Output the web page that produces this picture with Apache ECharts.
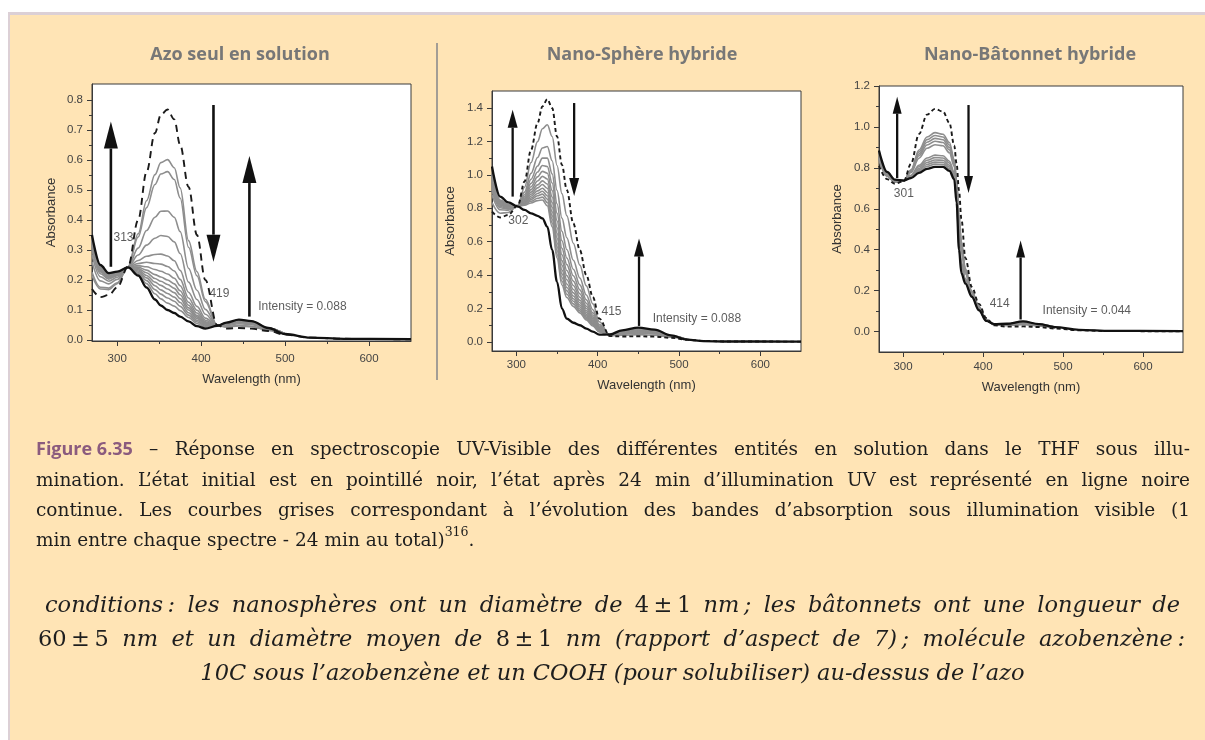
<!DOCTYPE html>
<html>
<head>
<meta charset="utf-8">
<script src="https://cdn.jsdelivr.net/npm/echarts@6/dist/echarts.min.js"></script>
<style>
  html, body { margin: 0; padding: 0; background: #fff; }
  #chart { width: 1205px; height: 740px; }
</style>
</head>
<body>
<div id="chart"></div>
<script>
// ---------- Azo alone in solution ----------
const wlAzo = [270,280,290,300,313,325,335,345,352,360,368,375,385,395,405,419,430,445,460,480,500,530,570,650];
const azoInitial = [0.17,0.143,0.15,0.175,0.245,0.40,0.56,0.69,0.75,0.768,0.735,0.65,0.51,0.35,0.20,0.05,0.038,0.04,0.038,0.03,0.018,0.008,0.004,0.002];
const azoFinal = [0.35,0.25,0.223,0.228,0.242,0.215,0.175,0.135,0.115,0.10,0.09,0.078,0.062,0.046,0.038,0.047,0.058,0.068,0.063,0.04,0.02,0.008,0.004,0.003];
// visible-light recovery spectra, sampled on wlAzo from 270 to 500 nm
const azoGray = [
  [0.215,0.170,0.168,0.188,0.244,0.354,0.464,0.551,0.591,0.601,0.574,0.507,0.331,0.228,0.136,0.049,0.043,0.047,0.044,0.032,0.018],
  [0.226,0.176,0.173,0.191,0.244,0.343,0.441,0.518,0.553,0.561,0.535,0.473,0.309,0.214,0.128,0.049,0.044,0.049,0.046,0.033,0.019],
  [0.261,0.197,0.187,0.202,0.243,0.306,0.365,0.409,0.429,0.430,0.409,0.361,0.239,0.166,0.102,0.048,0.048,0.054,0.051,0.035,0.019],
  [0.284,0.211,0.196,0.209,0.243,0.283,0.316,0.339,0.348,0.345,0.327,0.288,0.193,0.135,0.086,0.048,0.051,0.058,0.054,0.036,0.019],
  [0.301,0.221,0.203,0.214,0.243,0.265,0.279,0.285,0.286,0.280,0.264,0.232,0.159,0.112,0.073,0.048,0.053,0.060,0.056,0.037,0.019],
  [0.311,0.227,0.207,0.216,0.243,0.255,0.259,0.255,0.253,0.245,0.230,0.202,0.140,0.099,0.066,0.048,0.054,0.062,0.058,0.038,0.020],
  [0.318,0.231,0.210,0.218,0.243,0.248,0.244,0.235,0.229,0.220,0.206,0.181,0.126,0.090,0.061,0.048,0.054,0.063,0.058,0.038,0.020],
  [0.323,0.234,0.212,0.220,0.243,0.243,0.233,0.218,0.210,0.200,0.187,0.164,0.116,0.082,0.058,0.047,0.055,0.064,0.059,0.039,0.020],
  [0.327,0.236,0.214,0.221,0.243,0.238,0.224,0.205,0.196,0.185,0.172,0.151,0.107,0.077,0.055,0.047,0.055,0.064,0.060,0.039,0.020],
  [0.331,0.239,0.215,0.222,0.242,0.234,0.215,0.193,0.182,0.170,0.158,0.138,0.100,0.072,0.052,0.047,0.056,0.065,0.060,0.039,0.020],
  [0.335,0.241,0.217,0.224,0.242,0.230,0.207,0.181,0.167,0.155,0.143,0.125,0.091,0.066,0.049,0.047,0.056,0.066,0.061,0.039,0.020],
  [0.339,0.244,0.219,0.225,0.242,0.226,0.198,0.168,0.153,0.140,0.129,0.112,0.083,0.061,0.046,0.047,0.057,0.066,0.061,0.040,0.020],
  [0.344,0.246,0.220,0.226,0.242,0.221,0.188,0.154,0.137,0.123,0.113,0.098,0.075,0.055,0.043,0.047,0.057,0.067,0.062,0.040,0.020]
];
const azoArrows = [[292.5,0.244,0.728],[414.7,0.783,0.261],[457.5,0.078,0.613]];
const azoNotes = [['313',307.5,0.34,'center'],['419',421.8,0.155,'center'],['Intensity = 0.088',468,0.111,'left']];

// ---------- Hybrid nanospheres ----------
const wlSphere = [270,280,290,302,310,318,326,332,338,344,350,356,362,370,378,386,394,402,415,430,450,470,490,510,530,560,650];
const sphereInitial = [0.78,0.745,0.76,0.82,0.96,1.15,1.31,1.41,1.453,1.40,1.23,1.06,0.91,0.71,0.55,0.40,0.27,0.14,0.035,0.033,0.034,0.032,0.025,0.014,0.006,0.003,0.002];
const sphereFinal = [1.05,0.87,0.835,0.81,0.79,0.77,0.755,0.74,0.69,0.55,0.36,0.20,0.14,0.115,0.10,0.08,0.062,0.044,0.045,0.07,0.086,0.074,0.04,0.014,0.005,0.003,0.002];
// sampled on wlSphere from 270 to 510 nm
const sphereGray = [
  [0.834,0.770,0.775,0.818,0.926,1.074,1.199,1.276,1.300,1.230,1.056,0.888,0.756,0.591,0.460,0.336,0.228,0.121,0.037,0.040,0.044,0.040,0.028,0.014],
  [0.880,0.791,0.788,0.816,0.897,1.009,1.104,1.161,1.170,1.085,0.907,0.741,0.624,0.489,0.383,0.281,0.193,0.104,0.039,0.047,0.053,0.048,0.031,0.014],
  [0.905,0.803,0.795,0.815,0.881,0.974,1.053,1.100,1.100,1.006,0.827,0.662,0.553,0.435,0.342,0.252,0.174,0.096,0.040,0.050,0.058,0.051,0.032,0.014],
  [0.923,0.811,0.800,0.815,0.870,0.949,1.017,1.056,1.050,0.951,0.771,0.606,0.503,0.396,0.312,0.231,0.160,0.089,0.040,0.053,0.061,0.054,0.033,0.014],
  [0.937,0.818,0.804,0.814,0.861,0.929,0.988,1.021,1.010,0.906,0.725,0.560,0.463,0.364,0.289,0.214,0.149,0.084,0.041,0.054,0.064,0.056,0.034,0.014],
  [0.949,0.823,0.807,0.814,0.854,0.912,0.963,0.991,0.975,0.868,0.685,0.522,0.428,0.338,0.268,0.200,0.140,0.080,0.041,0.056,0.067,0.058,0.034,0.014],
  [0.960,0.828,0.810,0.813,0.847,0.897,0.940,0.964,0.945,0.834,0.651,0.487,0.397,0.314,0.250,0.187,0.131,0.076,0.042,0.058,0.069,0.060,0.035,0.014],
  [0.969,0.832,0.812,0.813,0.841,0.884,0.922,0.942,0.920,0.806,0.622,0.459,0.372,0.294,0.235,0.176,0.125,0.073,0.042,0.059,0.070,0.061,0.035,0.014],
  [0.977,0.836,0.815,0.813,0.836,0.872,0.904,0.920,0.895,0.779,0.594,0.431,0.347,0.275,0.221,0.166,0.118,0.070,0.042,0.060,0.072,0.063,0.036,0.014],
  [0.985,0.840,0.817,0.812,0.831,0.862,0.889,0.902,0.875,0.756,0.571,0.408,0.326,0.259,0.209,0.157,0.112,0.067,0.043,0.061,0.073,0.064,0.036,0.014],
  [0.992,0.843,0.819,0.812,0.827,0.852,0.875,0.885,0.855,0.734,0.548,0.386,0.306,0.244,0.197,0.149,0.107,0.065,0.043,0.062,0.075,0.065,0.037,0.014],
  [0.999,0.846,0.821,0.812,0.822,0.842,0.860,0.867,0.835,0.712,0.525,0.363,0.286,0.228,0.186,0.141,0.102,0.062,0.043,0.063,0.076,0.066,0.037,0.014],
  [1.006,0.849,0.823,0.812,0.818,0.832,0.846,0.850,0.815,0.689,0.503,0.341,0.266,0.213,0.174,0.132,0.096,0.060,0.043,0.064,0.077,0.067,0.038,0.014]
];
const sphereArrows = [[295.4,0.87,1.39],[371,1.43,0.874],[450.8,0.096,0.62]];
const sphereNotes = [['302',302.4,0.726,'center'],['415',417,0.18,'center'],['Intensity = 0.088',467.6,0.14,'left']];

// ---------- Hybrid nanorods ----------
const wlRod = [270,280,290,301,310,320,330,340,350,358,364,367,370,373,378,386,395,404,414,430,450,470,490,520,560,650];
const rodInitial = [0.81,0.745,0.722,0.735,0.82,0.965,1.06,1.088,1.075,1.02,0.91,0.82,0.69,0.55,0.36,0.218,0.135,0.066,0.03,0.024,0.025,0.022,0.015,0.006,0.002,0.001];
const rodFinal = [0.885,0.78,0.742,0.738,0.75,0.775,0.795,0.805,0.805,0.785,0.745,0.63,0.40,0.285,0.234,0.17,0.104,0.052,0.036,0.038,0.05,0.036,0.022,0.008,0.003,0.002];
// sampled on wlRod from 270 to 490 nm
const rodGray = [
  [0.841,0.759,0.730,0.736,0.791,0.887,0.951,0.972,0.964,0.924,0.842,0.742,0.571,0.441,0.308,0.198,0.122,0.060,0.032,0.030,0.035,0.028,0.018],
  [0.844,0.761,0.731,0.736,0.788,0.878,0.938,0.958,0.951,0.912,0.834,0.733,0.557,0.428,0.302,0.196,0.121,0.060,0.033,0.030,0.036,0.028,0.018],
  [0.848,0.763,0.732,0.737,0.784,0.868,0.925,0.944,0.937,0.900,0.826,0.723,0.542,0.415,0.296,0.194,0.119,0.059,0.033,0.031,0.038,0.029,0.019],
  [0.852,0.765,0.733,0.737,0.781,0.859,0.912,0.930,0.924,0.888,0.818,0.714,0.528,0.402,0.289,0.191,0.118,0.058,0.033,0.032,0.039,0.030,0.019],
  [0.856,0.767,0.734,0.737,0.777,0.847,0.896,0.913,0.908,0.874,0.808,0.702,0.510,0.386,0.282,0.188,0.116,0.057,0.034,0.033,0.041,0.031,0.019],
  [0.870,0.773,0.738,0.737,0.764,0.813,0.848,0.862,0.859,0.832,0.778,0.668,0.458,0.338,0.259,0.180,0.110,0.055,0.035,0.035,0.045,0.033,0.021],
  [0.873,0.774,0.739,0.738,0.761,0.805,0.837,0.850,0.848,0.823,0.771,0.660,0.446,0.327,0.254,0.178,0.109,0.054,0.035,0.036,0.046,0.034,0.021],
  [0.876,0.776,0.740,0.738,0.758,0.797,0.826,0.838,0.837,0.812,0.764,0.652,0.434,0.316,0.249,0.176,0.108,0.054,0.035,0.036,0.047,0.034,0.021],
  [0.879,0.777,0.740,0.738,0.756,0.790,0.816,0.828,0.827,0.804,0.758,0.645,0.423,0.306,0.244,0.174,0.107,0.053,0.036,0.037,0.048,0.035,0.021],
  [0.882,0.778,0.741,0.738,0.753,0.784,0.807,0.818,0.817,0.796,0.753,0.639,0.413,0.297,0.240,0.172,0.105,0.053,0.036,0.037,0.049,0.035,0.022]
];
const rodArrows = [[292.7,0.75,1.148],[381.9,1.107,0.677],[447,0.059,0.445]];
const rodNotes = [['301',301,0.673,'center'],['414',420.8,0.137,'center'],['Intensity = 0.044',474.5,0.102,'left']];

// ---------- tick values ----------
const xMajorTicks = [300,400,500,600];
const xMinorTicks = [350,450,550];
const azoYMajor = [0,0.1,0.2,0.3,0.4,0.5,0.6,0.7,0.8];
const azoYMinor = [0.05,0.15,0.25,0.35,0.45,0.55,0.65,0.75];
const sphereYMajor = [0,0.2,0.4,0.6,0.8,1.0,1.2,1.4];
const sphereYMinor = [0.1,0.3,0.5,0.7,0.9,1.1,1.3];
const rodYMajor = [0,0.2,0.4,0.6,0.8,1.0,1.2];
const rodYMinor = [0.1,0.3,0.5,0.7,0.9,1.1];

// ---------- texts ----------
const panelTitles = ['Azo seul en solution','Nano-Sphère hybride','Nano-Bâtonnet hybride'];
const captionLines = [
  '{fig|Figure\u00a06.35} – Réponse en spectroscopie UV-Visible des différentes entités en solution dans le THF sous illu-',
  'mination. L’état initial est en pointillé noir, l’état après 24 min d’illumination UV est représenté en ligne noire',
  'continue. Les courbes grises correspondant à l’évolution des bandes d’absorption sous illumination visible (1',
  'min entre chaque spectre - 24 min au total){sup|316}.'
];
const noteLines = [
  'conditions\u2009: les nanosphères ont un diamètre de {m|4\u2009±\u20091} nm\u2009; les bâtonnets ont une longueur de',
  '{m|60\u2009±\u20095} nm et un diamètre moyen de {m|8\u2009±\u20091} nm (rapport d’aspect de 7)\u2009; molécule azobenzène\u2009:',
  '10C sous l’azobenzène et un COOH (pour solubiliser) au-dessus de l’azo'
];

// ---------- layout of the three panels ----------
const panels = [
  { wl: wlAzo, initial: azoInitial, final: azoFinal, gray: azoGray, arrows: azoArrows, notes: azoNotes,
    yMajor: azoYMajor, yMinor: azoYMinor, yMin: -0.0033, yMax: 0.853,
    grid: { left: 92, top: 84, width: 319, height: 257 }, titleX: 240,
    head: [14, 27], arrowWidth: 2.6, dash: [7, 5], xMargin: 12, xGap: 32, yGap: 34 },
  { wl: wlSphere, initial: sphereInitial, final: sphereFinal, gray: sphereGray, arrows: sphereArrows, notes: sphereNotes,
    yMajor: sphereYMajor, yMinor: sphereYMinor, yMin: -0.054, yMax: 1.502,
    grid: { left: 492, top: 91, width: 309, height: 260 }, titleX: 642,
    head: [10, 18], arrowWidth: 2.3, dash: [4, 3], xMargin: 8, xGap: 28, yGap: 35 },
  { wl: wlRod, initial: rodInitial, final: rodFinal, gray: rodGray, arrows: rodArrows, notes: rodNotes,
    yMajor: rodYMajor, yMinor: rodYMinor, yMin: -0.1, yMax: 1.2,
    grid: { left: 879, top: 86, width: 304, height: 266 }, titleX: 1030,
    head: [9, 17], arrowWidth: 2.3, dash: [4, 3], xMargin: 9, xGap: 29, yGap: 35 }
];

const axisFont = 'Liberation Sans';
const grids = [], xAxes = [], yAxes = [], series = [];

panels.forEach((p, i) => {
  grids.push(Object.assign({ show: true, backgroundColor: '#ffffff', borderColor: '#3a3a3a', borderWidth: 1 }, p.grid));
  const pair = (vals) => vals.map((v, k) => [p.wl[k], v]);
  // major axis (labels + long ticks) and minor axis (short ticks)
  xAxes.push({
    type: 'value', gridIndex: i, min: 270, max: 650, position: 'bottom',
    axisLine: { show: true, onZero: false, lineStyle: { color: '#3a3a3a', width: 1 } },
    axisTick: { show: true, inside: false, length: 5, customValues: xMajorTicks, lineStyle: { color: '#3a3a3a' } },
    axisLabel: { customValues: xMajorTicks, fontSize: 11.5, color: '#444', margin: p.xMargin, fontFamily: axisFont },
    splitLine: { show: false },
    name: 'Wavelength (nm)', nameLocation: 'middle', nameGap: p.xGap,
    nameTextStyle: { fontSize: 13, color: '#333', fontFamily: axisFont }
  });
  xAxes.push({
    type: 'value', gridIndex: i, min: 270, max: 650, position: 'bottom',
    axisLine: { show: false, onZero: false },
    axisTick: { show: true, inside: false, length: 3, customValues: xMinorTicks, lineStyle: { color: '#3a3a3a' } },
    axisLabel: { show: false }, splitLine: { show: false }
  });
  yAxes.push({
    type: 'value', gridIndex: i, min: p.yMin, max: p.yMax, position: 'left',
    axisLine: { show: true, onZero: false, lineStyle: { color: '#3a3a3a', width: 1 } },
    axisTick: { show: true, inside: false, length: 5, customValues: p.yMajor, lineStyle: { color: '#3a3a3a' } },
    axisLabel: { customValues: p.yMajor, fontSize: 11.5, color: '#444', margin: 9, fontFamily: axisFont,
                 formatter: (v) => Number(v).toFixed(1) },
    splitLine: { show: false },
    name: 'Absorbance', nameLocation: 'middle', nameGap: p.yGap,
    nameTextStyle: { fontSize: 13, color: '#333', fontFamily: axisFont }
  });
  yAxes.push({
    type: 'value', gridIndex: i, min: p.yMin, max: p.yMax, position: 'left',
    axisLine: { show: false, onZero: false },
    axisTick: { show: true, inside: false, length: 3, customValues: p.yMinor, lineStyle: { color: '#3a3a3a' } },
    axisLabel: { show: false }, splitLine: { show: false }
  });

  const ax = { xAxisIndex: 2 * i, yAxisIndex: 2 * i };
  const lineBase = Object.assign({ type: 'line', symbol: 'none', smooth: 0.35, smoothMonotone: 'x', silent: true }, ax);

  p.gray.forEach((g) => {
    series.push(Object.assign({}, lineBase, { data: pair(g), lineStyle: { color: '#8e8e8e', width: 1.6 } }));
  });
  series.push(Object.assign({}, lineBase, { data: pair(p.initial), lineStyle: { color: '#1a1a1a', width: 1.9, type: p.dash } }));
  series.push(Object.assign({}, lineBase, { data: pair(p.final), lineStyle: { color: '#111', width: 2.3 } }));

  // vertical arrows: [wavelength, tail absorbance, tip absorbance]
  series.push(Object.assign({
    type: 'custom', silent: true, data: p.arrows, encode: { x: 0, y: [1, 2] },
    renderItem: (params, api) => {
      const a = api.coord([api.value(0), api.value(1)]);
      const b = api.coord([api.value(0), api.value(2)]);
      const dir = b[1] < a[1] ? -1 : 1;
      const base = b[1] - dir * p.head[1];
      return { type: 'group', children: [
        { type: 'line', shape: { x1: a[0], y1: a[1], x2: b[0], y2: base }, style: { stroke: '#111', lineWidth: p.arrowWidth } },
        { type: 'polygon', shape: { points: [[b[0], b[1]], [b[0] - p.head[0] / 2, base], [b[0] + p.head[0] / 2, base]] }, style: { fill: '#111' } }
      ] };
    }
  }, ax));

  // annotations (isosbestic points, intensity)
  series.push(Object.assign({
    type: 'scatter', silent: true, symbolSize: 0,
    data: p.notes.map((n) => ({ name: n[0], value: [n[1], n[2]],
      label: { show: true, formatter: '{b}', position: [0, 0], align: n[3], verticalAlign: 'middle',
               fontSize: 12, color: '#333', fontFamily: axisFont } }))
  }, ax));
});

// ---------- justified caption text ----------
const mctx = document.createElement('canvas').getContext('2d');
const fontOf = (s) => `${s.fontStyle || 'normal'} ${s.fontWeight || 'normal'} ${s.fontSize}px ${s.fontFamily}`;
const widthOf = (t, s) => { mctx.font = fontOf(s); return mctx.measureText(t).width; };

function parseWord(w, base, styles) {
  const out = [];
  const re = /\{(\w+)\|([^}]*)\}|([^{]+)/g;
  let m;
  while ((m = re.exec(w))) {
    if (m[1]) out.push({ text: m[2], style: Object.assign({}, base, styles[m[1]]) });
    else out.push({ text: m[3], style: base });
  }
  return out;
}

function setLine(line, base, styles, x0, x1, y, mode, out) {
  const words = line.split(' ').map((w) => parseWord(w, base, styles));
  const widths = words.map((ps) => ps.reduce((acc, q) => acc + widthOf(q.text, q.style), 0));
  const total = widths.reduce((a, b) => a + b, 0);
  const space = widthOf(' ', base);
  let gap = space, x = x0;
  if (mode === 'justify' && words.length > 1) gap = (x1 - x0 - total) / (words.length - 1);
  if (mode === 'center') x = (x0 + x1) / 2 - (total + space * (words.length - 1)) / 2;
  words.forEach((ps) => {
    ps.forEach((q) => {
      const s = q.style;
      out.push({ type: 'text', x: x, y: y + (s.dy || 0), silent: true,
        style: { text: q.text, fontFamily: s.fontFamily, fontSize: s.fontSize, fontStyle: s.fontStyle || 'normal',
                 fontWeight: s.fontWeight || 'normal', fill: s.fill,
                 align: 'left', verticalAlign: 'middle', textAlign: 'left', textVerticalAlign: 'middle' } });
      x += widthOf(q.text, s);
    });
    x += gap;
  });
}

const graphics = [
  { type: 'rect', shape: { x: 0, y: 0, width: 1205, height: 12 }, style: { fill: '#ffffff' }, silent: true },
  { type: 'rect', shape: { x: 0, y: 0, width: 8, height: 740 }, style: { fill: '#ffffff' }, silent: true },
  { type: 'rect', shape: { x: 8, y: 12, width: 1197, height: 3 }, style: { fill: '#dcd0d6' }, silent: true },
  { type: 'rect', shape: { x: 8, y: 12, width: 2, height: 728 }, style: { fill: '#dcd0d6' }, silent: true },
  { type: 'line', shape: { x1: 437, y1: 43, x2: 437, y2: 380 }, style: { stroke: '#a39d95', lineWidth: 2 }, silent: true }
];
panels.forEach((p, i) => {
  graphics.push({ type: 'text', x: p.titleX, y: 55, silent: true,
    style: { text: panelTitles[i], fontFamily: 'Open Sans', fontWeight: 'bold', fontSize: 18, fill: '#777777',
             align: 'center', verticalAlign: 'middle', textAlign: 'center', textVerticalAlign: 'middle' } });
});

const captionBase = { fontFamily: 'DejaVu Serif', fontSize: 18.5, fontStyle: 'normal', fontWeight: 'normal', fill: '#1e1e1e' };
const captionStyles = {
  fig: { fontFamily: 'Open Sans', fontWeight: 'bold', fontSize: 18, fill: '#8b5b7e' },
  sup: { fontSize: 12.5, dy: -8 }
};
const captionY = [450, 481, 511, 541];
captionLines.forEach((ln, k) => {
  setLine(ln, captionBase, captionStyles, 36, 1190, captionY[k], k < captionLines.length - 1 ? 'justify' : 'left', graphics);
});

const noteBase = { fontFamily: 'DejaVu Serif', fontSize: 22.5, fontStyle: 'italic', fontWeight: 'normal', fill: '#1e1e1e' };
const noteStyles = { m: { fontStyle: 'normal' } };
setLine(noteLines[0], noteBase, noteStyles, 45, 1180, 606, 'justify', graphics);
setLine(noteLines[1], noteBase, noteStyles, 38, 1185, 640, 'justify', graphics);
setLine(noteLines[2], noteBase, noteStyles, 175, 1050, 674, 'center', graphics);

const chart = echarts.init(document.getElementById('chart'), null, { renderer: 'canvas' });
chart.setOption({
  animation: false,
  backgroundColor: '#FFE4B5',
  grid: grids,
  xAxis: xAxes,
  yAxis: yAxes,
  series: series,
  graphic: { elements: graphics }
});
</script>
</body>
</html>
